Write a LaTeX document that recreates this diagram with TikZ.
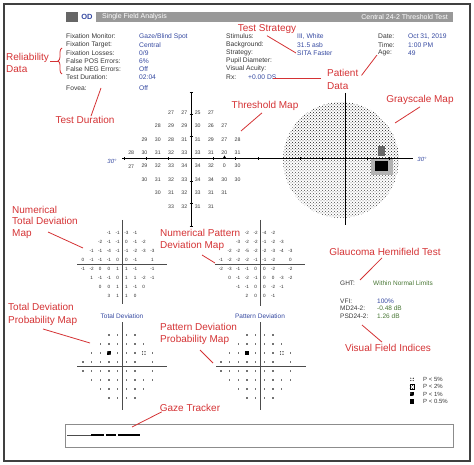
\documentclass[tikz,border=0pt]{standalone}
\usepackage{fontspec}
\setmainfont{Liberation Sans}
\usepackage{tikz}
\usetikzlibrary{positioning, arrows.meta, shapes.geometric, patterns, decorations.pathreplacing}

\definecolor{labred}{RGB}{212,50,52}
\definecolor{valblue}{RGB}{52,72,160}
\definecolor{valgreen}{RGB}{72,118,52}
\definecolor{txtgray}{RGB}{55,55,55}

\tikzset{
    lbl/.style={text=labred, font=\fontsize{10}{12.5}\selectfont, inner sep=0pt, align=left},
    ptr/.style={draw=labred, line width=0.8pt},
    info/.style={font=\fontsize{6.7}{7.5}\selectfont, text=txtgray, inner sep=0pt, anchor=west},
    infoval/.style={info, text=valblue},
    soglia/.style={font=\fontsize{5.2}{6}\selectfont, text=txtgray, inner sep=0pt},
    devnum/.style={font=\fontsize{4.6}{5}\selectfont, text=black!85, inner sep=0pt},
    asse/.style={line width=1pt, black},
    assedev/.style={line width=0.7pt, black!70},
    pdot/.style={fill=black!55, inner sep=0pt, minimum size=1.3pt},
    simb/.style={inner sep=0pt, minimum size=4.5pt, preaction={fill=white}},
    p5/.style={simb, path picture={
        \foreach \dx in {-1.2,1.2}
            \foreach \dy in {-1.2,1.2}
                \fill ([shift={(\dx pt,\dy pt)}]path picture bounding box.center) circle[radius=0.6pt];}},
    p2/.style={simb, pattern=crosshatch dots, draw=black, line width=0.4pt},
    p1/.style={simb, fill=black, path picture={
        \fill[white] ([shift={(-1.2pt,1.2pt)}]path picture bounding box.center) circle[radius=0.5pt];
        \fill[white] ([shift={(1.2pt,-1.2pt)}]path picture bounding box.center) circle[radius=0.5pt];}},
    p05/.style={simb, fill=black},
}

\begin{document}
\begin{tikzpicture}[x=1pt, y=-1pt]
    \useasboundingbox (0,0) rectangle (474,465);

    % Cornice
    \draw[black!75, line width=1.3pt] (4,4) rectangle (470,461);

    % Intestazione
    \fill[black!60] (66,12) rectangle (78,22);
    \fill[black!40] (96,12) rectangle (453,22);
    \node[font=\fontsize{7.5}{8}\selectfont\bfseries, text=valblue, inner sep=0pt] (od) at (87,17) {OD};
    \node[font=\fontsize{7}{8}\selectfont, text=white, inner sep=0pt, anchor=west] (sfa) at (102,17) {Single Field Analysis};
    \node[font=\fontsize{7}{8}\selectfont, text=white, inner sep=0pt, anchor=east] (test) at (448,17) {Central 24-2 Threshold Test};

    % Dati del test
    \foreach \t [count=\i] in {Fixation Monitor:, Fixation Target:, Fixation Losses:, False POS Errors:, False NEG Errors:, Test Duration:}
        \node[info] (fix\i) at (66,{28.5+\i*8.1}) {\t};
    \foreach \v [count=\i] in {Gaze/Blind Spot, Central, 0/9, 6\%, Off, 02:04}
        \node[infoval] (fixv\i) at (139,{28.5+\i*8.1}) {\v};
    \node[info] (fov) at (66,88) {Fovea:};
    \node[infoval] (fovv) at (139,88) {Off};

    \foreach \t [count=\i] in {Stimulus:, Background:, Strategy:, Pupil Diameter:, Visual Acuity:, Rx:}
        \node[info] (stim\i) at (226,{28.5+\i*8.1}) {\t};
    \foreach \v [count=\i] in {{III, White}, 31.5 asb, SITA Faster}
        \node[infoval] (stimv\i) at (297,{28.5+\i*8.1}) {\v};
    \node[infoval] (rxv) at (248,77.1) {+0.00 DS};

    \foreach \t/\v [count=\i] in {Date:/{Oct 31, 2019}, Time:/1:00 PM, Age:/49} {
        \node[info] (data\i) at (378,{28.5+\i*8.1}) {\t};
        \node[infoval] (datav\i) at (408,{28.5+\i*8.1}) {\v};
    }

    % Mappa in scala di grigi
    \begin{scope}
        \clip (341,160) circle[radius=58];
        \fill[pattern=crosshatch dots, pattern color=black!90] (280,100) rectangle (402,159);
        \fill[pattern=crosshatch dots, pattern color=black!70] (280,159) rectangle (402,220);
    \end{scope}
    \fill[black!30] (371,158) rectangle (393,175);
    \fill[black!60] (378,146) rectangle (385,156);
    \fill[black] (375,161) rectangle (388,171);

    % Assi della mappa di soglia
    \draw[asse] (191,92) -- (191,227);
    \draw[asse] (345,93) -- (345,225);
    \draw[asse] (122,159) -- (413,159);
    \foreach \k in {-3,-2,-1,1,2,3} {
        \draw[line width=0.6pt] ({191+\k*22.3},157.5) -- ++(0,3);
        \draw[line width=0.6pt] (189.5,{159+\k*22.3}) -- ++(3,0);
    }
    \foreach \k in {-2,-1,1,2}
        \draw[line width=0.6pt] ({345+\k*22.3},157.5) -- ++(0,3);
    \node[regular polygon, regular polygon sides=3, fill=black, inner sep=0pt, minimum size=4pt] (bs) at (224.5,157.5) {};
    \node[font=\fontsize{6}{7}\selectfont\itshape, text=valblue, inner sep=0pt] (deg1) at (112,161) {30°};
    \node[font=\fontsize{6}{7}\selectfont\itshape, text=valblue, inner sep=0pt] (deg2) at (422,159) {30°};

    % Valori di soglia
    \foreach \r/\riga in {1/{-1.5/27,-0.5/27,0.5/25,1.5/27},
                          2/{-2.5/28,-1.5/29,-0.5/29,0.5/30,1.5/26,2.5/27},
                          3/{-3.5/29,-2.5/30,-1.5/28,-0.5/31,0.5/31,1.5/29,2.5/27,3.5/28},
                          4/{-4.5/28,-3.5/30,-2.5/31,-1.5/32,-0.5/33,0.5/33,1.5/31,2.5/20,3.5/31},
                          5/{-4.5/27,-3.5/29,-2.5/32,-1.5/33,-0.5/34,0.5/34,1.5/32,2.5/0,3.5/30},
                          6/{-3.5/30,-2.5/31,-1.5/32,-0.5/33,0.5/34,1.5/34,2.5/30,3.5/30},
                          7/{-2.5/30,-1.5/31,-0.5/32,0.5/33,1.5/31,2.5/31},
                          8/{-1.5/33,-0.5/32,0.5/31,1.5/31}}
        \foreach \c/\v [count=\i] in \riga
            \node[soglia] (th\r-\i) at ({191+(\c)*13.3},{159.5+(\r-4.5)*13.4}) {\v};

    % Deviazione totale numerica
    \draw[assedev] (122,220) -- (122,304);
    \draw[assedev] (77,264.5) -- (167,264.5);
    \foreach \r/\riga in {1/{-1.5/-1,-0.5/-1,0.5/-3,1.5/-1},
                          2/{-2.5/-2,-1.5/-1,-0.5/-1,0.5/0,1.5/-1,2.5/-2},
                          3/{-3.5/-1,-2.5/-1,-1.5/-4,-0.5/-1,0.5/-1,1.5/-2,2.5/-3,3.5/-3},
                          4/{-4.5/0,-3.5/-1,-2.5/-1,-1.5/-1,-0.5/0,0.5/0,1.5/-1,3.5/1},
                          5/{-4.5/-1,-3.5/-2,-2.5/0,-1.5/0,-0.5/1,0.5/1,1.5/-1,3.5/-1},
                          6/{-3.5/1,-2.5/-1,-1.5/-1,-0.5/0,0.5/1,1.5/1,2.5/-2,3.5/-1},
                          7/{-2.5/0,-1.5/0,-0.5/1,0.5/1,1.5/-1,2.5/0},
                          8/{-1.5/3,-0.5/1,0.5/1,1.5/0}}
        \foreach \c/\v [count=\i] in \riga
            \node[devnum] (td\r-\i) at ({122+(\c)*8.7},{264.5+(\r-4.5)*9.1}) {\v};

    % Deviazione pattern numerica
    \draw[assedev] (260,220) -- (260,306);
    \draw[assedev] (215,264.5) -- (305,264.5);
    \foreach \r/\riga in {1/{-1.5/-2,-0.5/-2,0.5/-4,1.5/-2},
                          2/{-2.5/-3,-1.5/-2,-0.5/-2,0.5/-1,1.5/-2,2.5/-3},
                          3/{-3.5/-2,-2.5/-2,-1.5/-5,-0.5/-2,0.5/-2,1.5/-3,2.5/-4,3.5/-3},
                          4/{-4.5/-1,-3.5/-2,-2.5/-2,-1.5/-2,-0.5/-1,0.5/-1,1.5/-2,3.5/0},
                          5/{-4.5/-2,-3.5/-3,-2.5/-1,-1.5/-1,-0.5/0,0.5/0,1.5/-2,3.5/-2},
                          6/{-3.5/0,-2.5/-1,-1.5/-2,-0.5/-1,0.5/0,1.5/0,2.5/-3,3.5/-2},
                          7/{-2.5/-1,-1.5/-1,-0.5/0,0.5/0,1.5/-2,2.5/-1},
                          8/{-1.5/2,-0.5/0,0.5/0,1.5/-1}}
        \foreach \c/\v [count=\i] in \riga
            \node[devnum] (pd\r-\i) at ({260+(\c)*8.7},{264.5+(\r-4.5)*9.1}) {\v};

    % Mappe di probabilita
    \node[font=\fontsize{6.5}{7}\selectfont, text=valblue, inner sep=0pt] (tdtit) at (122,316) {Total Deviation};
    \node[font=\fontsize{6.5}{7}\selectfont, text=valblue, inner sep=0pt] (pdtit) at (260,316) {Pattern Deviation};
    \draw[assedev] (122,322) -- (122,410);
    \draw[assedev] (77,366.5) -- (167,366.5);
    \draw[assedev] (260,322) -- (260,410);
    \draw[assedev] (216,366.5) -- (306,366.5);
    \foreach \mx/\nm in {122/tp, 260/pp}
        \foreach \r/\cols in {1/{-1.5,-0.5,0.5,1.5},
                              2/{-2.5,-1.5,-0.5,0.5,1.5,2.5},
                              3/{-3.5,-2.5,-1.5,-0.5,0.5,1.5,2.5,3.5},
                              4/{-4.5,-3.5,-2.5,-1.5,-0.5,0.5,1.5,3.5},
                              5/{-4.5,-3.5,-2.5,-1.5,-0.5,0.5,1.5,3.5},
                              6/{-3.5,-2.5,-1.5,-0.5,0.5,1.5,2.5,3.5},
                              7/{-2.5,-1.5,-0.5,0.5,1.5,2.5},
                              8/{-1.5,-0.5,0.5,1.5}}
            \foreach \c [count=\i] in \cols
                \node[pdot] (\nm\r-\i) at ({\mx+(\c)*8.7},{366.5+(\r-4.5)*9}) {};
    \node[p1] (tps1) at (108.95,353) {};
    \node[p5] (tps2) at (143.75,353) {};
    \node[p05] (pps1) at (246.95,353) {};
    \node[p5] (pps2) at (281.75,353) {};

    % GHT e indici
    \node[info, font=\fontsize{6.5}{7}\selectfont] (ght) at (340,283) {GHT:};
    \node[info, font=\fontsize{6.5}{7}\selectfont, text=valgreen] (ghtv) at (373,283) {Within Normal Limits};
    \foreach \t/\v/\col [count=\i] in {VFI:/100\%/valblue, MD24-2:/-0.48 dB/valgreen, PSD24-2:/1.26 dB/valgreen} {
        \node[info, font=\fontsize{6.5}{7}\selectfont] (ind\i) at (340,{293+\i*7.8}) {\t};
        \node[info, font=\fontsize{6.5}{7}\selectfont, text=\col] (indv\i) at (377,{293+\i*7.8}) {\v};
    }

    % Legenda
    \foreach \s/\t [count=\i] in {p5/{P < 5\%}, p2/{P < 2\%}, p1/{P < 1\%}, p05/{P < 0.5\%}} {
        \node[\s] (leg\i) at (412,{372+\i*7.4}) {};
        \node[info, font=\fontsize{6}{7}\selectfont] (legt\i) at (423,{372+\i*7.4}) {\t};
    }

    % Gaze tracker
    \node[draw=black!45, line width=0.8pt, minimum width=388pt, minimum height=23pt, inner sep=0pt] (gaze) at (259,435.5) {};
    \draw[black!70, line width=0.4pt] (67,435) -- (91,435);
    \foreach \a/\b in {91/104, 106/116, 118/140}
        \fill (\a,433.8) rectangle (\b,435.6);

    % Etichette rosse
    \node[lbl, anchor=west] (lblrel) at (6,63) {Reliability\\Data};
    \draw[labred, line width=0.8pt, decorate, decoration={brace, amplitude=4pt, mirror}] (62,48) -- (62,74);
    \coordinate (reltip) at (58,61);
    \draw[ptr] ([shift={(1pt,2pt)}]lblrel.east) -- (reltip);

    \node[lbl] (lblstrat) at (267,29) {Test Strategy};
    \coordinate (stratend) at (296,53);
    \draw[ptr] ([yshift=-2pt]lblstrat.south) -- (stratend);

    \node[lbl, anchor=west] (lblpaz) at (327,79.5) {Patient\\Data};
    \coordinate (etaend) at (377,55);
    \coordinate (rxend) at (273,78);
    \draw[ptr] ([shift={(3pt,-6pt)}]lblpaz.north east) -- (etaend);
    \draw[ptr] ([shift={(-6pt,1.5pt)}]lblpaz.west) -- (rxend);

    \node[lbl] (lbldur) at (85,120) {Test Duration};
    \coordinate (durend) at (101,88);
    \draw[ptr] ([xshift=6pt]lbldur.north) -- (durend);

    \node[lbl] (lblsoglia) at (265,106) {Threshold Map};
    \coordinate (sogliaend) at (241,131);
    \draw[ptr] ([xshift=-3pt, yshift=-2pt]lblsoglia.south) -- (sogliaend);

    \node[lbl] (lblgrigi) at (420,100) {Grayscale Map};
    \coordinate (grigiend) at (395,123);
    \draw[ptr] ([yshift=-2pt]lblgrigi.south) -- (grigiend);

    \node[lbl, anchor=west, font=\fontsize{10}{11.5}\selectfont] (lblntd) at (12,222) {Numerical\\Total Deviation\\Map};
    \coordinate (ntdend) at (83,248);
    \draw[ptr] ([shift={(36pt,-10pt)}]lblntd.west) -- (ntdend);

    \node[lbl, anchor=west] (lblnpd) at (160,240) {Numerical Pattern\\Deviation Map};
    \coordinate (npdend) at (215,263);
    \draw[ptr] ([shift={(42pt,-15pt)}]lblnpd.west) -- (npdend);

    \node[lbl] (lblght) at (385,252) {Glaucoma Hemifield Test};
    \coordinate (ghtend) at (360,280);
    \draw[ptr] ([xshift=-3pt, yshift=-2pt]lblght.south) -- (ghtend);

    \node[lbl] (lblvfi) at (388,348) {Visual Field Indices};
    \coordinate (vfiend) at (362,325);
    \draw[ptr] ([xshift=-6pt, yshift=2pt]lblvfi.north) -- (vfiend);

    \node[lbl, anchor=west] (lbltdp) at (8,314.5) {Total Deviation\\Probability Map};
    \coordinate (tdpend) at (90,343);
    \draw[ptr] ([shift={(35pt,-14.5pt)}]lbltdp.west) -- (tdpend);

    \node[lbl, anchor=west] (lblpdp) at (160,334) {Pattern Deviation\\Probability Map};
    \coordinate (pdpend) at (213,363);
    \draw[ptr] ([shift={(40pt,-16pt)}]lblpdp.west) -- (pdpend);

    \node[lbl] (lblgaze) at (190,408) {Gaze Tracker};
    \coordinate (gazeend) at (132,427);
    \draw[ptr] ([xshift=2pt]lblgaze.south west) -- (gazeend);
\end{tikzpicture}
\end{document}
